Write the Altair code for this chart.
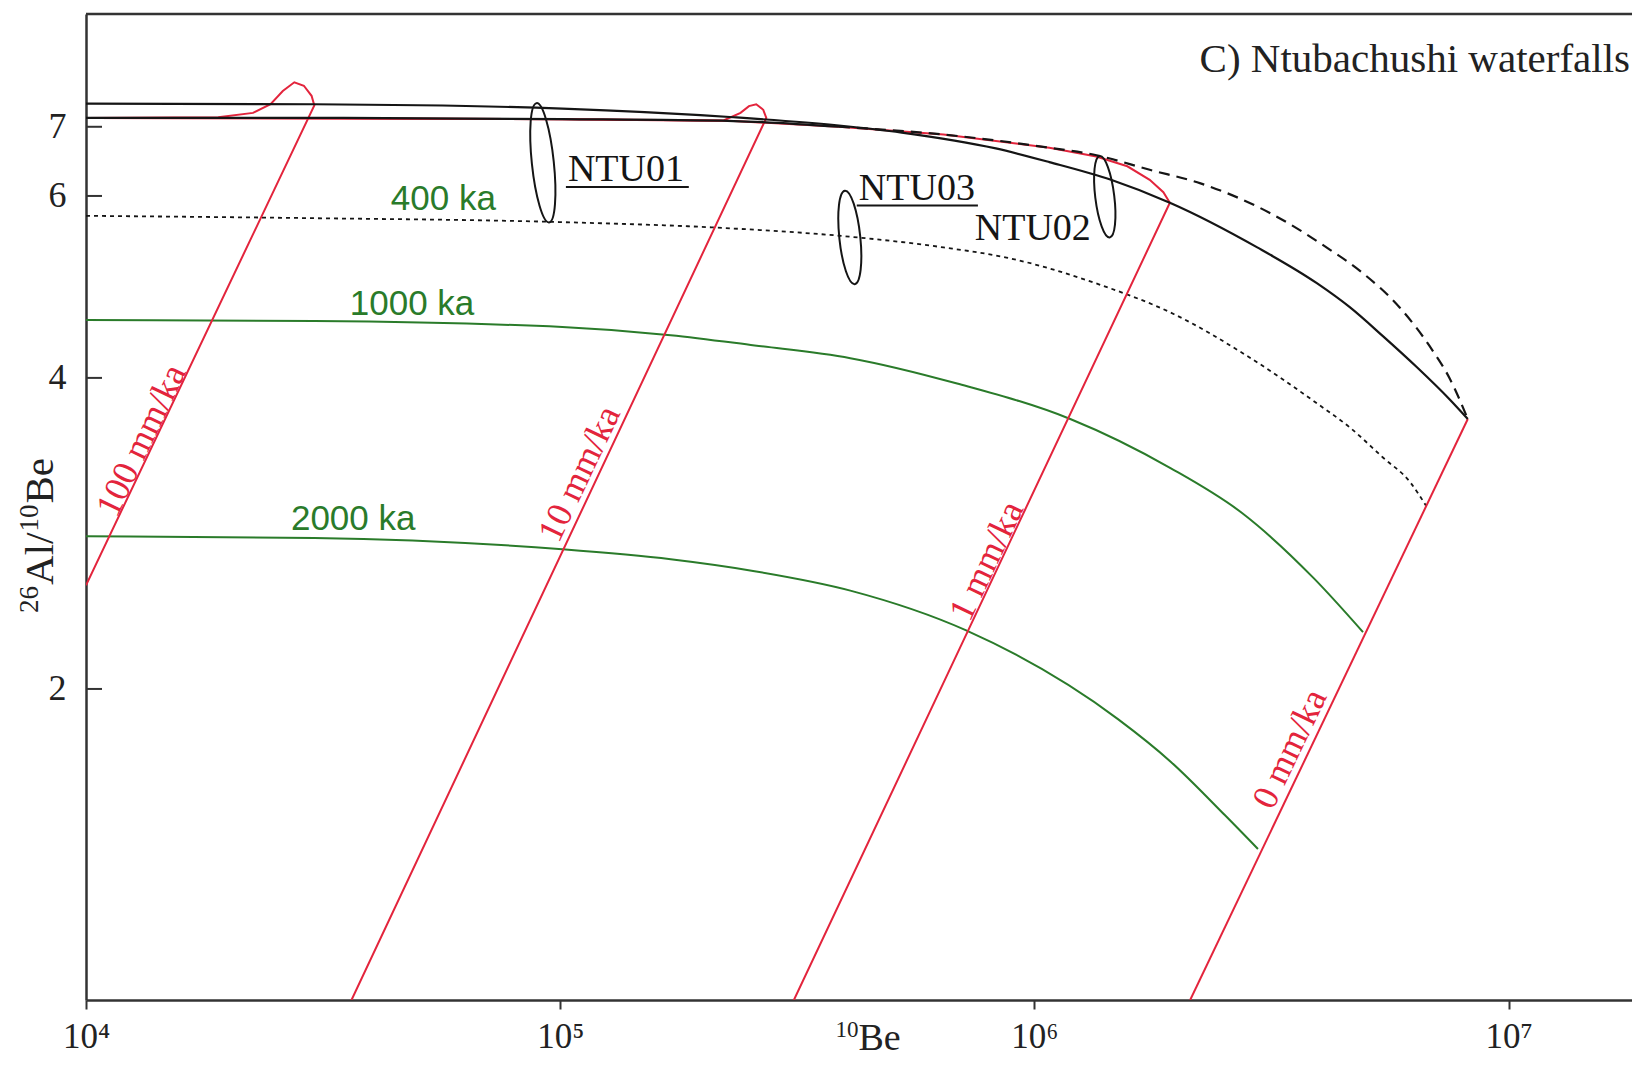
import altair as alt
import pandas as pd

# ------------------------------------------------------------------
# Values  (x = 10Be conc., y = 26Al/10Be ratio)
# ------------------------------------------------------------------
x_tick_values = [1e4, 1e5, 1e6, 1e7]
x_tick_labels = ["10⁴", "10⁵", "10⁶", "10⁷"]
y_tick_values = [2, 4, 6, 7]

panel_title = "C) Ntubachushi waterfalls"

# steady-state erosion curve (solid black)
erosion_x = [1.0e4, 3.03e4, 1.01e5, 2.32e5, 3.87e5, 5.25e5, 8.29e5, 1.075e6, 1.45e6,
             1.93e6, 2.95e6, 3.94e6, 4.63e6, 5.43e6, 6.39e6, 7.52e6, 8.2e6]
erosion_y = [7.37, 7.36, 7.29, 7.15, 7.02, 6.91, 6.67, 6.47, 6.22,
             5.91, 5.35, 4.94, 4.68, 4.39, 4.10, 3.81, 3.65]

# constant exposure curve (black, solid part then dashed)
exposure_solid_x = [1.0e4, 3.03e4, 1.01e5, 2.32e5, 3.87e5]
exposure_solid_y = [7.14, 7.14, 7.12, 7.09, 7.00]
exposure_dash_x = [3.87e5, 6.43e5, 1.075e6, 1.33e6, 1.75e6, 2.24e6, 3.13e6, 4.18e6,
                   4.85e6, 5.89e6, 6.82e6, 7.52e6, 8.2e6]
exposure_dash_y = [7.00, 6.88, 6.68, 6.58, 6.36, 6.17, 5.78, 5.33,
                   5.08, 4.68, 4.29, 3.99, 3.65]

# dotted black curve
dotted_x = [1.0e4, 3.03e4, 1.01e5, 2.32e5, 4.07e5, 6.43e5, 8.73e5, 1.38e6, 1.97e6,
            2.81e6, 3.94e6, 4.63e6, 5.43e6, 6.2e6, 6.69e6]
dotted_y = [5.74, 5.71, 5.66, 5.58, 5.48, 5.35, 5.23, 4.92, 4.61,
            4.20, 3.78, 3.58, 3.35, 3.17, 3.01]

# burial isochrons (green)
iso1000_x = [1.0e4, 3.03e4, 1.01e5, 1.71e5, 2.57e5, 4.09e5, 6.87e5, 1.19e6, 1.94e6,
             2.74e6, 3.88e6, 4.93e6]
iso1000_y = [4.55, 4.54, 4.48, 4.40, 4.30, 4.18, 3.95, 3.65, 3.27, 2.96, 2.56, 2.27]
iso2000_x = [1.0e4, 3.03e4, 1.01e5, 1.71e5, 2.57e5, 4.09e5, 7.16e5, 1.50e6, 1.94e6,
             2.52e6, 2.96e6]
iso2000_y = [2.81, 2.80, 2.73, 2.67, 2.60, 2.49, 2.28, 1.87, 1.70, 1.51, 1.40]

# burial paths for erosion rates (red)
p100_x = [1.0e4, 1.9e4, 2.25e4, 2.45e4, 2.6e4, 2.75e4, 2.88e4, 2.99e4, 3.03e4, 1.0e4]
p100_y = [7.14, 7.15, 7.22, 7.36, 7.58, 7.73, 7.67, 7.50, 7.34, 2.52]
p10_x = [1.0e4, 1.03e5, 2.21e5, 2.40e5, 2.50e5, 2.59e5, 2.68e5, 2.72e5, 3.63e4]
p10_y = [7.14, 7.12, 7.10, 7.22, 7.33, 7.36, 7.27, 7.14, 1.0]
p1_x = [1.0e4, 1.01e5, 2.32e5, 3.87e5, 6.43e5, 1.075e6, 1.35e6, 1.57e6, 1.75e6,
        1.87e6, 1.93e6, 3.11e5]
p1_y = [7.14, 7.12, 7.09, 7.00, 6.88, 6.68, 6.55, 6.41, 6.22, 6.05, 5.91, 1.0]
p0_x = [8.2e6, 2.13e6]
p0_y = [3.65, 1.0]

# labels
iso_text = ["400 ka", "1000 ka", "2000 ka"]
iso_lab_x = [5.67e4, 4.87e4, 3.66e4]
iso_lab_y = [5.96, 4.72, 2.92]

rate_text = ["100 mm/ka", "10 mm/ka", "1 mm/ka", "0 mm/ka"]
rate_lab_x = [1.31e4, 1.10e5, 7.94e5, 3.46e6]
rate_lab_y = [3.48, 3.23, 2.66, 1.75]

sample_text = ["NTU01", "NTU03", "NTU02"]
sample_lab_x = [1.376e5, 5.65e5, 9.92e5]
sample_lab_y = [6.36, 6.10, 5.58]

underline_x = [1.028e5, 4.22e5]
underline_x2 = [1.867e5, 7.60e5]
underline_y = [6.12, 5.875]

sample_ell_x = [9.19e4, 4.08e5, 1.407e6]
sample_ell_y = [6.46, 5.47, 5.99]

# axis titles, split into normal text and superscript pieces
x_title_parts = [("10", True), ("Be", False)]
y_title_parts = [("26", True), ("Al/", False), ("10", True), ("Be", False)]

# ------------------------------------------------------------------
W, H = 1546, 986
XMAX = 1.82e7
RED = "#e3243c"
GREEN = "#2a7b2a"
BLACK = "#151515"
AX = "#333333"
TXT = "#222222"
SERIF = "Liberation Serif"
SANS = "Liberation Sans"

label_expr = ""
for v, l in zip(x_tick_values, x_tick_labels):
    label_expr += f"datum.value == {int(v)} ? '{l}' : "
label_expr += "''"

X = alt.X(
    "x:Q",
    scale=alt.Scale(type="log", domain=[1e4, XMAX], nice=False),
    axis=alt.Axis(
        values=x_tick_values, labelExpr=label_expr, grid=False,
        domainColor=AX, domainWidth=2.5, tickColor=AX, tickWidth=2, tickSize=9,
        labelFont=SERIF, labelFontSize=35, labelColor=TXT,
        labelBaseline="alphabetic", labelPadding=38, labelFlush=False,
        labelOverlap=False, title=None,
    ),
)
Y = alt.Y(
    "y:Q",
    scale=alt.Scale(type="log", domain=[1, 9], nice=False),
    axis=alt.Axis(
        values=y_tick_values, format="d", grid=False, ticks=False,
        domainColor=AX, domainWidth=2.5,
        labelFont=SERIF, labelFontSize=36, labelColor=TXT, labelPadding=20,
        title=None,
    ),
)


def path_layer(xs, ys, color, width, dash=None, smooth=False):
    df = pd.DataFrame({"x": xs, "y": ys, "i": list(range(len(xs)))})
    kw = dict(color=color, strokeWidth=width, clip=True)
    if dash:
        kw["strokeDash"] = dash
    if smooth:
        kw["interpolate"] = "monotone"
    return alt.Chart(df).mark_line(**kw).encode(x=X, y=Y, order="i:Q")


def text_layer(xs, ys, texts, **mk):
    df = pd.DataFrame({"x": xs, "y": ys, "t": texts})
    return alt.Chart(df).mark_text(**mk).encode(x=X, y=Y, text="t:N")


def ellipse_path(a):
    k = 0.5523
    ka = round(k * a, 4)
    return (f"M0,-1 C{ka},-1 {a},{-k} {a},0 C{a},{k} {ka},1 0,1 "
            f"C{-ka},1 {-a},{k} {-a},0 C{-a},{-k} {-ka},-1 0,-1 Z")


ellipse_style = [  # (aspect, size, angle)
    (0.183, 14400, 354),
    (0.223, 8836, 354),
    (0.232, 6724, 353),
]

layers = []
# green isochrons
layers.append(path_layer(iso1000_x, iso1000_y, GREEN, 2, smooth=True))
layers.append(path_layer(iso2000_x, iso2000_y, GREEN, 2, smooth=True))
# dotted
layers.append(path_layer(dotted_x, dotted_y, BLACK, 1.8, [4, 4], smooth=True))
# red burial paths
for px, py in [(p100_x, p100_y), (p10_x, p10_y), (p1_x, p1_y), (p0_x, p0_y)]:
    layers.append(path_layer(px, py, RED, 2))
# black curves
layers.append(path_layer(erosion_x, erosion_y, BLACK, 2.2, smooth=True))
layers.append(path_layer(exposure_solid_x, exposure_solid_y, BLACK, 2.2, smooth=True))
layers.append(path_layer(exposure_dash_x, exposure_dash_y, BLACK, 2.2, [11, 7], smooth=True))

# ellipses
for (ex, ey, (a, s, ang)) in zip(sample_ell_x, sample_ell_y, ellipse_style):
    df = pd.DataFrame({"x": [ex], "y": [ey]})
    layers.append(
        alt.Chart(df).mark_point(shape=ellipse_path(a), size=s, angle=ang, filled=False,
                                 color=BLACK, strokeWidth=2, opacity=1)
        .encode(x=X, y=Y)
    )

# labels
layers.append(text_layer(iso_lab_x, iso_lab_y, iso_text, font=SANS, fontSize=35,
                         color=GREEN, align="center", baseline="middle"))
layers.append(text_layer(rate_lab_x, rate_lab_y, rate_text, font=SERIF, fontSize=36,
                         color=RED, align="center", baseline="middle", angle=295.5))
layers.append(text_layer(sample_lab_x, sample_lab_y, sample_text, font=SERIF, fontSize=38,
                         color=BLACK, align="center", baseline="middle"))
ul_df = pd.DataFrame({"x": underline_x, "x2": underline_x2, "y": underline_y})
layers.append(alt.Chart(ul_df).mark_rule(color=BLACK, strokeWidth=2)
              .encode(x=X, x2="x2:Q", y=Y))

# inward y ticks
layers.append(alt.Chart(pd.DataFrame({"y": y_tick_values})).mark_rule(color=AX, strokeWidth=2)
              .encode(y=Y, x=alt.value(0), x2=alt.value(16)))
# top frame line
layers.append(alt.Chart(pd.DataFrame({"a": [0]})).mark_rule(color=AX, strokeWidth=2.5)
              .encode(x=alt.value(0), x2=alt.value(W), y=alt.value(0)))
# panel title
layers.append(alt.Chart(pd.DataFrame({"t": [panel_title]}))
              .mark_text(align="right", baseline="middle", font=SERIF, fontSize=41, color=TXT)
              .encode(x=alt.value(W - 2), y=alt.value(46), text="t:N"))


# ---- axis titles with real superscripts (built piece by piece) ----
def piece_width(t, fs):
    w = {"0": .5, "1": .5, "2": .5, "6": .5, "A": .722, "l": .278, "/": .278,
         "B": .667, "e": .444}
    return sum(w[c] for c in t) * fs


# x title: centred under the plot, baseline below the tick labels
XM, XS = 38, 23
xt_total = sum(piece_width(t, XS if s else XM) for t, s in x_title_parts)
cx = 782 - xt_total / 2
for t, sup in x_title_parts:
    fs = XS if sup else XM
    layers.append(
        alt.Chart(pd.DataFrame({"t": [t]}))
        .mark_text(align="left", baseline="alphabetic", font=SERIF, fontSize=fs, color=TXT)
        .encode(x=alt.value(cx), y=alt.value(H + 50 - (13 if sup else 0)), text="t:N")
    )
    cx += piece_width(t, fs)

# y title: rotated, reading upwards
YM, YS = 41, 27
yt_total = sum(piece_width(t, YS if s else YM) for t, s in y_title_parts)
cy = 523 + yt_total / 2
for t, sup in y_title_parts:
    fs = YS if sup else YM
    layers.append(
        alt.Chart(pd.DataFrame({"t": [t]}))
        .mark_text(align="left", baseline="alphabetic", font=SERIF, fontSize=fs, color=TXT,
                   angle=270)
        .encode(x=alt.value(-33 - (15 if sup else 0)), y=alt.value(cy), text="t:N")
    )
    cy -= piece_width(t, fs) + 1

chart = (
    alt.layer(*layers)
    .properties(width=W, height=H, autosize=alt.AutoSizeParams(type="none"),
                padding={"left": 78, "top": 6, "right": 0, "bottom": 58},
                background="white")
    .configure_view(stroke=None)
)

chart.save("out.html", embed_options={"renderer": "svg", "actions": False})
